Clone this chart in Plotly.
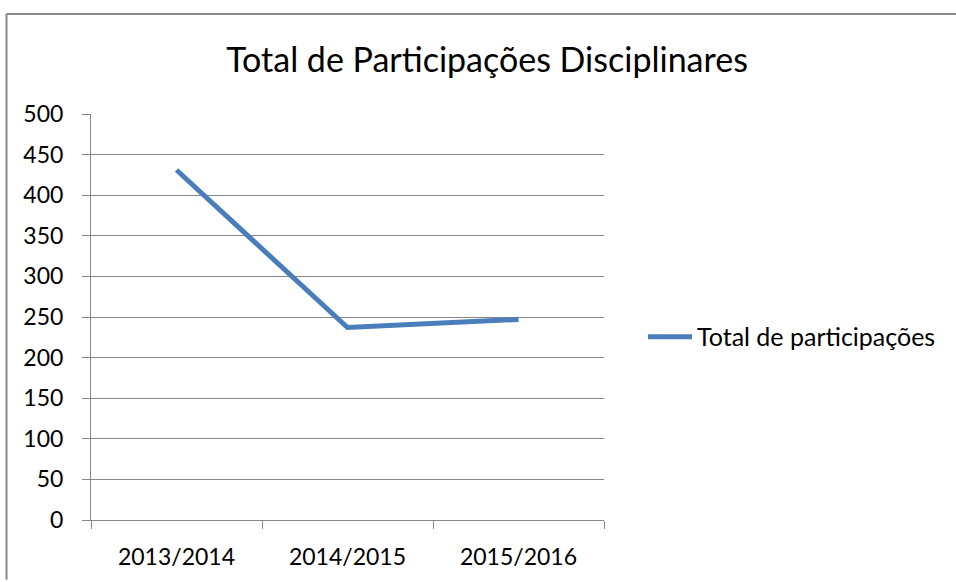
import plotly.graph_objects as go

categories = ["2013/2014", "2014/2015", "2015/2016"]
values = [431, 237, 247]
series_name = "Total de participações"
title_text = "Total de Participações Disciplinares"

W, H = 956, 582
L, R, T, B = 91, 352, 114, 60
pw, ph = W - L - R, H - T - B

grid = "#868686"
font_family = "Lato, 'Open Sans', sans-serif"

fig = go.Figure()
fig.add_trace(go.Scatter(
    x=categories, y=values, mode="lines", name=series_name,
    line=dict(color="#4A7EBB", width=5),
))

# outer chart border (top and left visible)
bx = (6.5 - L) / pw
by = (H - B - 13.5) / ph
ex = (W - L) / pw
fig.add_shape(type="line", xref="paper", yref="paper", x0=bx, x1=ex, y0=by, y1=by,
              line=dict(color="#888888", width=2))
fig.add_shape(type="line", xref="paper", yref="paper", x0=bx, x1=bx, y0=by, y1=-B / ph,
              line=dict(color="#888888", width=2))

fig.update_layout(
    width=W, height=H,
    margin=dict(l=L, r=R, t=T, b=B),
    paper_bgcolor="white", plot_bgcolor="white",
    font=dict(family=font_family, color="#000000", size=23),
    title=dict(text=title_text, x=487 / W, xanchor="center", xref="container",
               y=1 - 60 / H, yanchor="middle", yref="container",
               font=dict(size=34, family=font_family, color="#000000")),
    showlegend=True,
    legend=dict(x=(643 - L) / pw, xanchor="left", y=(H - B - 338) / ph, yanchor="middle",
                itemwidth=44,
                font=dict(size=25, family=font_family), bgcolor="rgba(0,0,0,0)"),
    xaxis=dict(type="category", range=[-0.5, 2.5], tickson="boundaries",
               ticks="outside", ticklen=8, tickcolor=grid, tickwidth=1,
               showline=True, linecolor=grid, linewidth=1, showgrid=False,
               tickfont=dict(size=23), ticklabelstandoff=16),
    yaxis=dict(range=[0, 500], dtick=50, tick0=0, ticks="outside", ticklen=8,
               tickcolor=grid, tickwidth=1, showline=True, linecolor=grid, linewidth=1,
               showgrid=True, gridcolor=grid, gridwidth=1, zeroline=False,
               tickfont=dict(size=23), ticklabelstandoff=14),
)

fig.write_html("out.html", config={"displayModeBar": False},
               post_script="document.body.style.margin='0';document.body.style.overflow='hidden';"
                           "document.documentElement.style.overflow='hidden';")
